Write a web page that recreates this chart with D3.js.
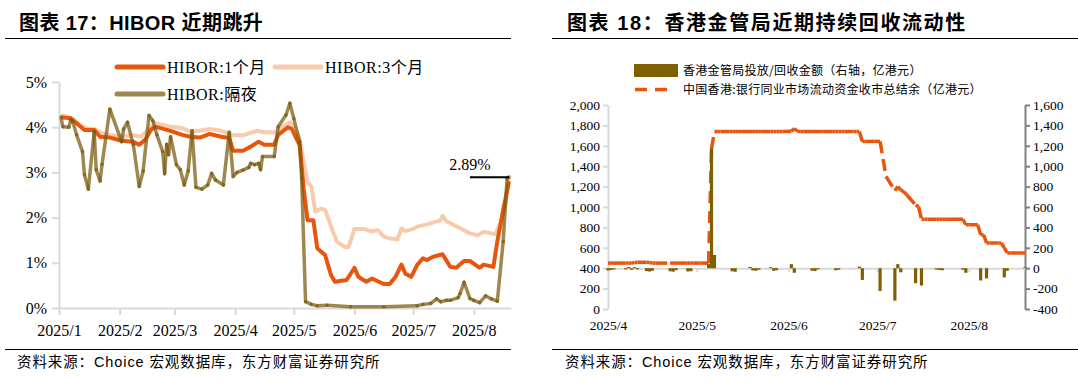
<!DOCTYPE html>
<html>
<head>
<meta charset="utf-8">
<script src="https://cdn.jsdelivr.net/npm/d3@7"></script>
<style>
body { margin: 0; background: #fff; }
svg text { font-family: "Liberation Serif", "Noto Sans CJK SC", serif; fill: #000; }
</style>
</head>
<body>
<svg id="chart" width="1078" height="381"></svg>
<script>
// ---- 图表17 HIBOR (%) ----
var m3Data = [
  ["2025-01-02",4.26],["2025-01-07",4.21],["2025-01-14",3.98],["2025-01-19",3.96],["2025-01-24",3.85],
  ["2025-02-02",3.79],["2025-02-08",3.82],["2025-02-12",3.79],["2025-02-17",4.01],["2025-02-19",4.09],
  ["2025-02-27",4.01],["2025-03-05",3.98],["2025-03-09",3.90],["2025-03-14",3.92],["2025-03-19",3.96],
  ["2025-03-25",3.92],["2025-03-31",3.82],["2025-04-05",3.82],["2025-04-12",3.92],["2025-04-16",3.89],
  ["2025-04-22",3.89],["2025-04-24",3.98],["2025-04-29",4.11],["2025-05-01",4.01],["2025-05-04",3.75],
  ["2025-05-06",3.24],["2025-05-08",2.79],["2025-05-10",2.68],["2025-05-12",2.13],["2025-05-15",2.20],
  ["2025-05-17",2.17],["2025-05-21",1.69],["2025-05-23",1.47],["2025-05-27",1.35],["2025-05-29",1.35],
  ["2025-06-01",1.75],["2025-06-06",1.75],["2025-06-09",1.70],["2025-06-13",1.72],["2025-06-16",1.58],
  ["2025-06-19",1.54],["2025-06-23",1.52],["2025-06-25",1.76],["2025-06-27",1.70],["2025-07-01",1.75],
  ["2025-07-03",1.80],["2025-07-08",1.85],["2025-07-11",1.89],["2025-07-15",1.94],["2025-07-16",2.04],
  ["2025-07-18",1.92],["2025-07-22",1.83],["2025-07-27",1.72],["2025-07-30",1.65],["2025-08-03",1.61],
  ["2025-08-06",1.69],["2025-08-10",1.65],["2025-08-12",1.63],["2025-08-15",1.91],["2025-08-17",2.24],
  ["2025-08-19",2.94]
];
var m1Data = [
  ["2025-01-02",4.22],["2025-01-07",4.20],["2025-01-14",3.94],["2025-01-19",3.94],["2025-01-22",3.79],
  ["2025-01-27",3.77],["2025-02-02",3.70],["2025-02-08",3.68],["2025-02-11",3.61],["2025-02-14",3.72],
  ["2025-02-17",3.94],["2025-02-19",4.01],["2025-02-22",3.98],["2025-02-27",3.92],["2025-03-05",3.83],
  ["2025-03-09",3.79],["2025-03-14",3.77],["2025-03-19",3.85],["2025-03-25",3.79],["2025-03-29",3.76],
  ["2025-03-31",3.48],["2025-04-05",3.48],["2025-04-09",3.57],["2025-04-13",3.68],["2025-04-16",3.61],
  ["2025-04-21",3.61],["2025-04-23",3.83],["2025-04-28",4.00],["2025-04-30",3.96],["2025-05-04",3.60],
  ["2025-05-06",2.65],["2025-05-08",1.94],["2025-05-11",1.94],["2025-05-13",1.32],["2025-05-17",1.17],
  ["2025-05-20",0.73],["2025-05-22",0.58],["2025-05-28",0.62],["2025-06-01",0.89],["2025-06-03",0.69],
  ["2025-06-07",0.58],["2025-06-10",0.65],["2025-06-16",0.53],["2025-06-19",0.53],["2025-06-22",0.69],
  ["2025-06-25",0.96],["2025-06-27",0.76],["2025-06-30",0.69],["2025-07-03",0.95],["2025-07-06",1.10],
  ["2025-07-08",1.06],["2025-07-11",1.13],["2025-07-16",1.19],["2025-07-20",0.91],["2025-07-23",0.89],
  ["2025-07-27",1.04],["2025-07-30",1.04],["2025-08-04",0.89],["2025-08-06",0.96],["2025-08-11",0.91],
  ["2025-08-13",1.47],["2025-08-16",2.17],["2025-08-19",2.80]
];
var onData = [
  ["2025-01-02",4.22],["2025-01-03",4.01],["2025-01-06",4.00],["2025-01-07",4.16],["2025-01-08",4.13],
  ["2025-01-10",3.83],["2025-01-13",3.46],["2025-01-14",2.95],["2025-01-16",2.63],["2025-01-19",3.90],
  ["2025-01-20",3.06],["2025-01-22",2.81],["2025-01-23",3.18],["2025-01-27",4.40],["2025-02-02",3.68],
  ["2025-02-03",3.96],["2025-02-05",4.11],["2025-02-08",3.61],["2025-02-11",2.69],["2025-02-13",3.03],
  ["2025-02-16",4.26],["2025-02-18",4.14],["2025-02-20",3.83],["2025-02-23",3.46],["2025-02-24",2.97],
  ["2025-02-25",3.62],["2025-02-26",3.39],["2025-02-27",3.79],["2025-03-02",3.17],["2025-03-04",3.06],
  ["2025-03-06",2.72],["2025-03-08",3.03],["2025-03-10",3.92],["2025-03-12",2.67],["2025-03-15",2.63],
  ["2025-03-18",2.72],["2025-03-20",2.98],["2025-03-22",2.83],["2025-03-26",2.72],["2025-03-29",3.89],
  ["2025-03-31",2.91],["2025-04-02",3.00],["2025-04-05",3.05],["2025-04-08",3.11],["2025-04-09",3.20],
  ["2025-04-11",3.17],["2025-04-13",3.20],["2025-04-14",3.06],["2025-04-15",3.35],["2025-04-21",3.35],
  ["2025-04-23",4.01],["2025-04-27",4.27],["2025-04-29",4.53],["2025-05-01",4.19],["2025-05-04",3.68],
  ["2025-05-05",2.87],["2025-05-07",0.14],["2025-05-10",0.08],["2025-05-13",0.05],["2025-05-18",0.06],
  ["2025-05-30",0.03],["2025-06-16",0.03],["2025-07-03",0.05],["2025-07-06",0.08],["2025-07-10",0.10],
  ["2025-07-13",0.20],["2025-07-15",0.14],["2025-07-18",0.17],["2025-07-20",0.17],["2025-07-24",0.23],
  ["2025-07-25",0.32],["2025-07-27",0.57],["2025-07-30",0.21],["2025-08-01",0.17],["2025-08-04",0.12],
  ["2025-08-07",0.27],["2025-08-10",0.20],["2025-08-13",0.15],["2025-08-16",1.47],["2025-08-18",2.87],
  ["2025-08-19",2.89]
];
var hiborMonths = ["2025-01-01","2025-02-01","2025-03-01","2025-04-01","2025-05-01","2025-06-01","2025-07-01","2025-08-01"];
var hiborYTicks = [0, 1, 2, 3, 4, 5];
var hiborLabels = ["HIBOR:1个月", "HIBOR:3个月", "HIBOR:隔夜"];
var lastOn = 2.89;

// ---- 图表18 总结余 (亿港元, 左轴) ----
var balanceData = [
  ["2025-04-01",450],["2025-04-02",450],["2025-04-03",450],["2025-04-07",450],["2025-04-08",450],
  ["2025-04-09",450],["2025-04-10",455],["2025-04-11",458],["2025-04-14",458],["2025-04-15",455],
  ["2025-04-16",450],["2025-04-17",450],["2025-04-22",450],["2025-04-23",450],["2025-04-24",450],
  ["2025-04-25",450],["2025-04-28",450],["2025-04-29",450],["2025-04-30",450],
  ["2025-05-02",450],["2025-05-05",450],["2025-05-06",1570],["2025-05-07",1740],["2025-05-08",1740],
  ["2025-05-09",1740],["2025-05-12",1740],["2025-05-13",1740],["2025-05-14",1740],["2025-05-15",1740],
  ["2025-05-16",1740],["2025-05-19",1740],["2025-05-20",1740],["2025-05-21",1740],["2025-05-22",1740],
  ["2025-05-23",1740],["2025-05-26",1740],["2025-05-27",1740],["2025-05-28",1740],["2025-05-29",1740],
  ["2025-05-30",1740],
  ["2025-06-02",1742],["2025-06-03",1770],["2025-06-04",1742],["2025-06-05",1740],["2025-06-06",1740],
  ["2025-06-09",1740],["2025-06-10",1740],["2025-06-11",1740],["2025-06-12",1740],["2025-06-13",1740],
  ["2025-06-16",1740],["2025-06-17",1740],["2025-06-18",1740],["2025-06-19",1740],["2025-06-20",1740],
  ["2025-06-23",1740],["2025-06-24",1740],["2025-06-25",1740],["2025-06-26",1643],["2025-06-27",1643],
  ["2025-06-30",1643],
  ["2025-07-02",1643],["2025-07-03",1470],["2025-07-04",1300],["2025-07-07",1160],["2025-07-08",1200],
  ["2025-07-09",1165],["2025-07-10",1150],["2025-07-11",1120],["2025-07-14",1020],["2025-07-15",1005],
  ["2025-07-16",880],["2025-07-17",880],["2025-07-18",880],["2025-07-21",880],["2025-07-22",880],
  ["2025-07-23",880],["2025-07-24",880],["2025-07-25",880],["2025-07-28",880],["2025-07-29",880],
  ["2025-07-30",880],["2025-07-31",826],
  ["2025-08-01",826],["2025-08-04",826],["2025-08-05",728],["2025-08-06",728],["2025-08-07",647],
  ["2025-08-08",647],["2025-08-11",647],["2025-08-12",647],["2025-08-13",600],["2025-08-14",549],
  ["2025-08-15",549],["2025-08-18",549],["2025-08-19",549],["2025-08-20",549]
];
// ---- 金管局投放/回收 (亿港元, 右轴) ----
var hkmaData = [
  ["2025-04-01",-22],["2025-04-02",-18],["2025-04-03",-12],["2025-04-07",-12],["2025-04-08",12],
  ["2025-04-09",-15],["2025-04-10",10],["2025-04-11",-12],["2025-04-14",-28],["2025-04-15",-32],
  ["2025-04-16",-25],["2025-04-22",-30],["2025-04-23",-34],["2025-04-24",-20],["2025-04-28",-32],
  ["2025-04-29",-30],["2025-05-05",40],["2025-05-06",1175],["2025-05-07",130],["2025-05-13",-30],
  ["2025-05-14",-35],["2025-05-19",12],["2025-05-20",-22],["2025-05-21",-25],["2025-05-22",-15],
  ["2025-05-26",10],["2025-05-27",-25],["2025-05-28",-20],["2025-06-02",40],["2025-06-03",-45],
  ["2025-06-09",-25],["2025-06-10",-28],["2025-06-11",-12],["2025-06-17",-20],["2025-06-18",-15],
  ["2025-06-25",15],["2025-06-26",-115],["2025-07-02",-223],["2025-07-07",-318],["2025-07-08",40],
  ["2025-07-09",-40],["2025-07-14",-147],["2025-07-16",-170],["2025-07-21",-12],["2025-07-22",-18],
  ["2025-07-23",-20],["2025-07-30",-15],["2025-07-31",-45],["2025-08-05",-120],["2025-08-07",-100],
  ["2025-08-13",-90],["2025-08-14",-25],["2025-08-20",10]
];
var hkMonths = ["2025-04-01","2025-05-01","2025-06-01","2025-07-01","2025-08-01"];
var leftTicks = [0, 200, 400, 600, 800, 1000, 1200, 1400, 1600, 1800, 2000];
var rightTicks = [-400, -200, 0, 200, 400, 600, 800, 1000, 1200, 1400, 1600];
var hkLabels = ["香港金管局投放/回收金额（右轴，亿港元）", "中国香港:银行同业市场流动资金收市总结余（亿港元）"];

var parse = d3.timeParse("%Y-%m-%d");
var monthFmt = function (d) { return "2025/" + (d.getMonth() + 1); };
var svg = d3.select("#chart");

var C1 = "#e8560e", C3 = "#f8cbad", CON = "#7a5a0c", CBAR = "#7f6000";

// ---- headers and footers ----
function frame(x0, x1, tx, title, spacing) {
    svg.append("text").attr("x", tx).attr("y", 30)
        .style("font-family", "'Liberation Sans', 'Noto Sans CJK SC', sans-serif")
        .style("font-weight", "bold").style("font-size", "20px").style("letter-spacing", spacing)
        .text(title);
    svg.append("line").attr("x1", x0).attr("x2", x1).attr("y1", 38.5).attr("y2", 38.5)
        .attr("stroke", "#000").attr("stroke-width", 1.2);
    svg.append("line").attr("x1", x0).attr("x2", x1).attr("y1", 349.5).attr("y2", 349.5)
        .attr("stroke", "#000").attr("stroke-width", 1.2);
    svg.append("text").attr("x", tx - 2).attr("y", 367)
        .style("font-family", "'Liberation Sans', 'Noto Sans CJK SC', sans-serif")
        .style("font-size", "14.5px").style("letter-spacing", "0.9px")
        .text("资料来源：Choice 宏观数据库，东方财富证券研究所");
}
frame(5, 511, 19, "图表 17：HIBOR 近期跳升", "0.4px");
frame(552, 1078, 567, "图表 18：香港金管局近期持续回收流动性", "1.6px");

// ================= 图表17 =================
var x = d3.scaleTime().domain([parse("2025-01-01"), parse("2025-08-20")]).range([59, 511]);
var y = d3.scaleLinear().domain([0, 5]).range([308, 82]);

var gx = svg.append("g").attr("transform", "translate(0,308)")
    .call(d3.axisBottom(x).tickValues(hiborMonths.map(parse)).tickFormat(monthFmt).tickSize(7).tickSizeOuter(0));
gx.select(".domain").attr("stroke", "#d9d9d9").attr("stroke-width", 2);
gx.selectAll(".tick line").attr("stroke", "#d9d9d9").attr("stroke-width", 2);
gx.selectAll(".tick text").attr("y", 17).style("font-size", "16px").style("font-family", "'Liberation Serif', serif");

var gy = svg.append("g").attr("transform", "translate(59,0)")
    .call(d3.axisLeft(y).tickValues(hiborYTicks).tickFormat(function (d) { return d + "%"; }).tickSize(7).tickPadding(5).tickSizeOuter(0));
gy.select(".domain").attr("stroke", "#d9d9d9").attr("stroke-width", 2);
gy.selectAll(".tick line").attr("stroke", "#d9d9d9").attr("stroke-width", 2);
gy.selectAll(".tick text").style("font-size", "16px").style("font-family", "'Liberation Serif', serif");
svg.selectAll(".domain").attr("fill", "none");

var line = d3.line().x(function (d) { return x(parse(d[0])); }).y(function (d) { return y(d[1]); });

svg.append("path").datum(m3Data).attr("d", line)
    .attr("fill", "none").attr("stroke", C3).attr("stroke-width", 4).attr("stroke-linejoin", "round");
svg.append("path").datum(m1Data).attr("d", line)
    .attr("fill", "none").attr("stroke", C1).attr("stroke-width", 4).attr("stroke-linejoin", "round");
// overnight: drawn segment by segment with some transparency
svg.append("g").selectAll("path").data(d3.pairs(onData)).enter().append("path")
    .attr("d", line)
    .attr("fill", "none").attr("stroke", CON).attr("stroke-opacity", 0.72)
    .attr("stroke-width", 3.5).attr("stroke-linecap", "round");

// annotation
var lastDate = parse(onData[onData.length - 1][0]);
svg.append("line").attr("x1", x(parse("2025-07-30"))).attr("x2", x(lastDate))
    .attr("y1", y(lastOn)).attr("y2", y(lastOn)).attr("stroke", "#000").attr("stroke-width", 2);
svg.append("text").attr("x", 470).attr("y", y(lastOn) - 7).attr("text-anchor", "middle")
    .style("font-size", "16px").text(lastOn.toFixed(2) + "%");

// legend
var leg = [
    { x: 117, y: 67, c: C1, op: 1, t: hiborLabels[0] },
    { x: 275, y: 67, c: C3, op: 1, t: hiborLabels[1] },
    { x: 117, y: 94, c: CON, op: 0.72, t: hiborLabels[2] }
];
var lg = svg.append("g").selectAll("g").data(leg).enter().append("g");
lg.append("line").attr("x1", function (d) { return d.x; }).attr("x2", function (d) { return d.x + 46; })
    .attr("y1", function (d) { return d.y; }).attr("y2", function (d) { return d.y; })
    .attr("stroke", function (d) { return d.c; }).attr("stroke-opacity", function (d) { return d.op; })
    .attr("stroke-width", 5).attr("stroke-linecap", "round");
lg.append("text").attr("x", function (d) { return d.x + 50; }).attr("y", function (d) { return d.y + 5.5; })
    .style("font-size", "16px").style("letter-spacing", "0.5px").text(function (d) { return d.t; });

// ================= 图表18 =================
var xr = d3.scaleTime().domain([parse("2025-04-01"), parse("2025-08-20")]).range([608, 1025]);
var yl = d3.scaleLinear().domain([0, 2000]).range([309, 105]);
var yr = d3.scaleLinear().domain([-400, 1600]).range([309, 105]);

var gl = svg.append("g").attr("transform", "translate(608,0)")
    .call(d3.axisLeft(yl).tickValues(leftTicks).tickFormat(d3.format(",")).tickSize(5).tickPadding(3).tickSizeOuter(0));
gl.select(".domain").attr("stroke", "#d9d9d9").attr("stroke-width", 2).attr("fill", "none");
gl.selectAll(".tick line").attr("stroke", "#d9d9d9").attr("stroke-width", 2);
gl.selectAll(".tick text").style("font-size", "13.5px").style("font-family", "'Liberation Serif', serif");

var gr = svg.append("g").attr("transform", "translate(1025,0)")
    .call(d3.axisRight(yr).tickValues(rightTicks).tickFormat(d3.format(",")).tickSize(5).tickPadding(3).tickSizeOuter(0));
gr.select(".domain").attr("stroke", "#808080").attr("stroke-width", 2).attr("fill", "none");
gr.selectAll(".tick line").attr("stroke", "#808080").attr("stroke-width", 2);
gr.selectAll(".tick text").style("font-size", "13.5px").style("font-family", "'Liberation Serif', serif")
    .text(function (d) { return d < 0 ? "-" + d3.format(",")(-d) : d3.format(",")(d); });

var gb = svg.append("g").attr("transform", "translate(0," + yr(0) + ")")
    .call(d3.axisBottom(xr).tickValues(hkMonths.map(parse)).tickFormat(monthFmt).tickSize(4).tickSizeOuter(0));
gb.select(".domain").attr("stroke", "#d9d9d9").attr("stroke-width", 2).attr("fill", "none");
gb.selectAll(".tick line").attr("stroke", "#d9d9d9").attr("stroke-width", 2);
gb.selectAll(".tick text").attr("y", 52).style("font-size", "13.5px").style("font-family", "'Liberation Serif', serif");

// balance: dashes restart on every segment
var lineL = d3.line().x(function (d) { return xr(parse(d[0])); }).y(function (d) { return yl(d[1]); });
svg.append("g").selectAll("path").data(d3.pairs(balanceData)).enter().append("path")
    .attr("d", lineL).attr("fill", "none").attr("stroke", C1).attr("stroke-width", 3.5)
    .attr("stroke-dasharray", "12,8");

// bars
svg.append("g").selectAll("rect").data(hkmaData).enter().append("rect")
    .attr("x", function (d) { return xr(parse(d[0])) - 1.6; })
    .attr("width", 3.2)
    .attr("y", function (d) { return yr(Math.max(0, d[1])); })
    .attr("height", function (d) { return Math.abs(yr(d[1]) - yr(0)); })
    .attr("fill", CBAR);

// legend
svg.append("rect").attr("x", 634).attr("y", 64).attr("width", 44).attr("height", 13).attr("fill", CBAR);
svg.append("line").attr("x1", 635).attr("x2", 668).attr("y1", 89.5).attr("y2", 89.5)
    .attr("stroke", C1).attr("stroke-width", 3.5).attr("stroke-dasharray", "12,8");
svg.append("text").attr("x", 683).attr("y", 75).style("font-size", "12px").style("letter-spacing", "0.3px")
    .style("font-family", "'Noto Sans CJK SC', sans-serif").text(hkLabels[0]);
svg.append("text").attr("x", 683).attr("y", 94).style("font-size", "12px").style("letter-spacing", "0.3px")
    .style("font-family", "'Noto Sans CJK SC', sans-serif").text(hkLabels[1]);
</script>
</body>
</html>
